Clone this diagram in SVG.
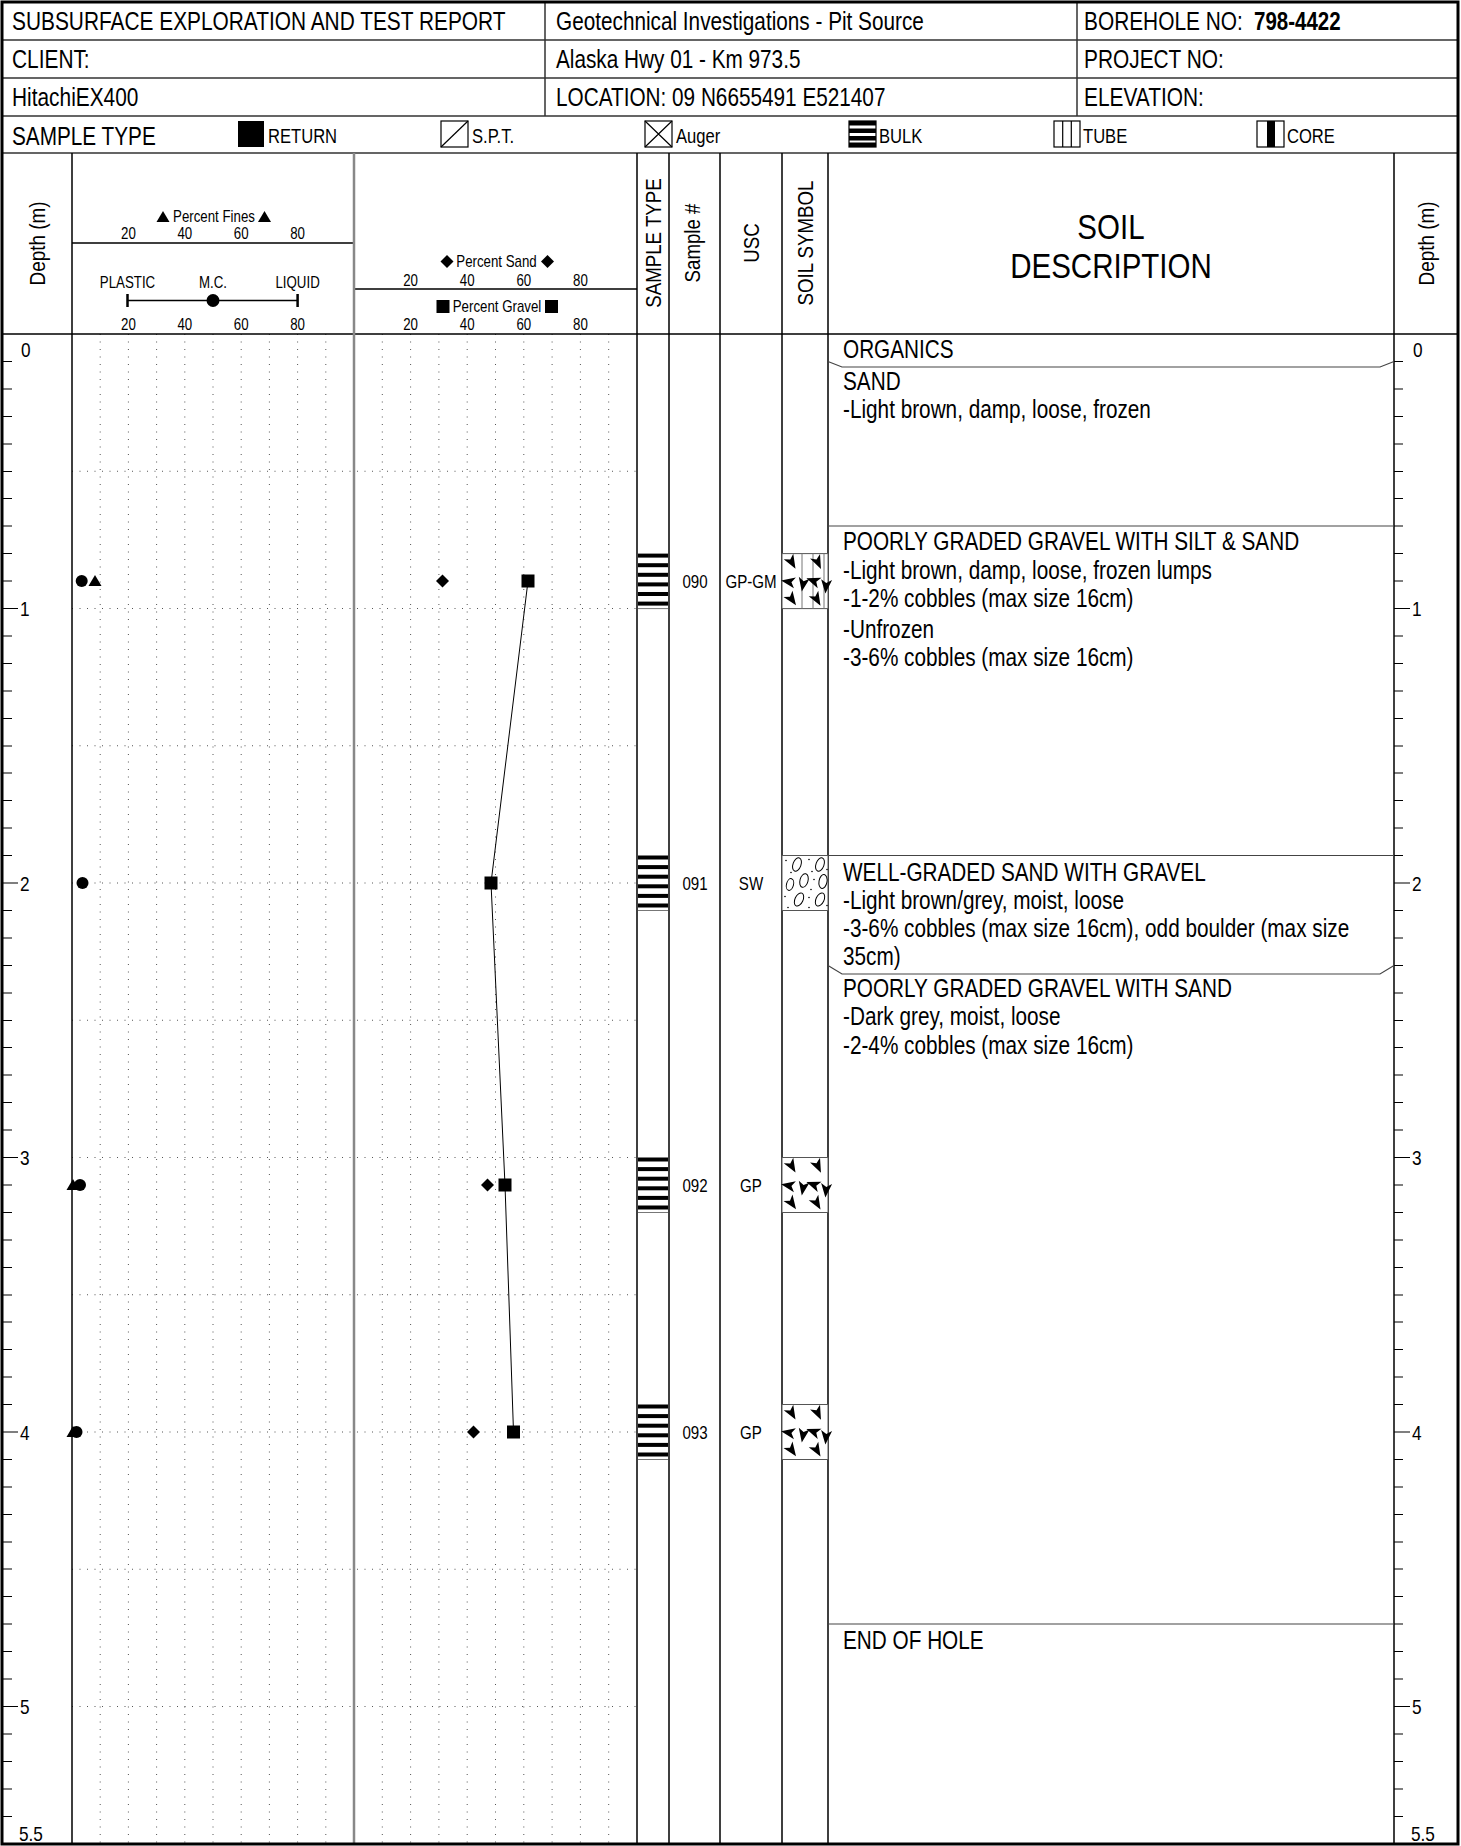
<svg xmlns="http://www.w3.org/2000/svg" xmlns:xlink="http://www.w3.org/1999/xlink" width="1461" height="1846" viewBox="0 0 1461 1846">
<style>
.t{font-family:"Liberation Sans",Arial,Helvetica,sans-serif;fill:#000}
.f25{font-size:25px}.f20{font-size:20px}.f16{font-size:16px}.f18{font-size:18px}.f19{font-size:21px}.f22{font-size:22px}.f36{font-size:36px}
.m{text-anchor:middle}
.ln{stroke:#000;stroke-width:1.5;fill:none}
.hl{stroke:#333;stroke-width:1.5;fill:none}
.grid{stroke:#555;stroke-width:1;stroke-dasharray:1 6.5;fill:none}
.tick{stroke:#000;stroke-width:1.2;fill:none}
.box{stroke:#000;stroke-width:1.2;fill:#fff}
.sym{stroke:#555;stroke-width:1;fill:#fff}
</style>
<defs>
<path id="tri" d="M-6.5,5 L6.5,5 L0,-6 Z" fill="#000"/>
<path id="dia" d="M0,-6.5 L6.5,0 L0,6.5 L-6.5,0 Z" fill="#000"/>
<rect id="sq" x="-6.5" y="-6.5" width="13" height="13" fill="#000"/>
<circle id="dot" r="6" fill="#000"/>
<path id="ah" d="M7,0 L-7,-5.5 L-3.5,0 L-7,5.5 Z" fill="#000"/>
<g id="bulk" fill="#000">
<rect x="1" y="0" width="30" height="4"/><rect x="1" y="9.6" width="30" height="4"/><rect x="1" y="19.2" width="30" height="4"/><rect x="1" y="28.8" width="30" height="4"/><rect x="1" y="38.4" width="30" height="4"/><rect x="1" y="48" width="30" height="4"/>
<line x1="1" y1="55" x2="31" y2="55" stroke="#777" stroke-width="1"/>
</g>
<g id="shards">
<use xlink:href="#ah" transform="translate(10 9) rotate(60)"/>
<use xlink:href="#ah" transform="translate(36 9) rotate(65)"/>
<use xlink:href="#ah" transform="translate(6 28) rotate(190)"/>
<use xlink:href="#ah" transform="translate(21 31) rotate(100)"/>
<use xlink:href="#ah" transform="translate(31 27) rotate(200)"/>
<use xlink:href="#ah" transform="translate(44 33) rotate(95)"/>
<use xlink:href="#ah" transform="translate(10 46) rotate(55)"/>
<use xlink:href="#ah" transform="translate(35 46) rotate(60)"/>
</g>
<g id="gp"><rect class="sym" x="0" y="0" width="46" height="55"/><use xlink:href="#shards"/></g>
<g id="gpgm"><rect class="sym" x="0" y="0" width="46" height="55"/><path d="M20,0V55M31,0V55M42,0V55" stroke="#777" stroke-width="1"/><use xlink:href="#shards"/></g>
<g id="sw"><rect class="sym" x="0" y="0" width="46" height="55"/>
<g fill="none" stroke="#000" stroke-width="1">
<ellipse cx="15" cy="9" rx="4" ry="7" transform="rotate(20 15 9)"/><ellipse cx="38" cy="9" rx="4" ry="7" transform="rotate(20 38 9)"/><ellipse cx="22" cy="25" rx="4" ry="7" transform="rotate(15 22 25)"/><ellipse cx="8" cy="29" rx="3.5" ry="6" transform="rotate(15 8 29)"/><ellipse cx="41" cy="26" rx="4" ry="7" transform="rotate(10 41 26)"/><ellipse cx="17" cy="44" rx="4" ry="7" transform="rotate(25 17 44)"/><ellipse cx="38" cy="44" rx="4" ry="7" transform="rotate(25 38 44)"/>
</g>
<g fill="#000"><circle cx="4" cy="5" r=".8"/><circle cx="27" cy="4" r=".8"/><circle cx="30" cy="16" r=".8"/><circle cx="9" cy="17" r=".8"/><circle cx="3" cy="41" r=".8"/><circle cx="29" cy="34" r=".8"/><circle cx="45" cy="14" r=".8"/><circle cx="27" cy="52" r=".8"/><circle cx="6" cy="52" r=".8"/><circle cx="45" cy="50" r=".8"/><circle cx="32" cy="24" r=".8"/><circle cx="27" cy="42" r=".8"/></g>
</g>
</defs>
<rect x="0" y="0" width="1461" height="1846" fill="#fff"/>

<g id="header">
<path class="hl" d="M2,40H1459M2,78H1459M2,116H1459M2,153H1459M545,2V116M1077,2V116"/>
<text class="t f25" transform="translate(12 30) scale(.835 1)">SUBSURFACE EXPLORATION AND TEST REPORT</text>
<text class="t f25" transform="translate(12 68) scale(.835 1)">CLIENT:</text>
<text class="t f25" transform="translate(12 106) scale(.835 1)">HitachiEX400</text>
<text class="t f25" transform="translate(556 30) scale(.83 1)">Geotechnical Investigations - Pit Source</text>
<text class="t f25" transform="translate(556 68) scale(.83 1)">Alaska Hwy 01 - Km 973.5</text>
<text class="t f25" transform="translate(556 106) scale(.83 1)">LOCATION: 09 N6655491 E521407</text>
<text class="t f25" transform="translate(1084 30) scale(.835 1)">BOREHOLE NO:</text>
<text class="t f25" font-weight="bold" transform="translate(1254 30) scale(.82 1)">798-4422</text>
<text class="t f25" transform="translate(1084 68) scale(.835 1)">PROJECT NO:</text>
<text class="t f25" transform="translate(1084 106) scale(.835 1)">ELEVATION:</text>
</g>

<g id="legend">
<text class="t f25" transform="translate(12 145) scale(.83 1)">SAMPLE TYPE</text>
<rect x="238" y="121" width="26" height="26" fill="#000"/>
<text class="t f20" transform="translate(268 143) scale(.83 1)">RETURN</text>
<rect class="box" x="441" y="121" width="27" height="26"/><line class="tick" x1="441" y1="147" x2="468" y2="121"/>
<text class="t f20" transform="translate(472 143) scale(.83 1)">S.P.T.</text>
<rect class="box" x="645" y="121" width="27" height="26"/><path class="tick" d="M645,121L672,147M672,121L645,147"/>
<text class="t f20" transform="translate(676 143) scale(.83 1)">Auger</text>
<rect class="box" x="849" y="121" width="27" height="26"/>
<g fill="#000"><rect x="849" y="121" width="27" height="4.5"/><rect x="849" y="128.5" width="27" height="4.5"/><rect x="849" y="136" width="27" height="4.5"/><rect x="849" y="142.5" width="27" height="4.5"/></g>
<text class="t f20" transform="translate(879 143) scale(.83 1)">BULK</text>
<rect class="box" x="1054" y="121" width="26" height="26"/><path class="tick" d="M1062.7,121V147M1071.3,121V147"/>
<text class="t f20" transform="translate(1083 143) scale(.83 1)">TUBE</text>
<rect class="box" x="1257" y="121" width="27" height="26"/><rect x="1267" y="121" width="8" height="26" fill="#000"/>
<text class="t f20" transform="translate(1287 143) scale(.83 1)">CORE</text>
</g>

<g id="grid">
<path class="grid" d="M100.2,334V1844M128.4,334V1844M156.6,334V1844M184.8,334V1844M213,334V1844M241.2,334V1844M269.4,334V1844M297.6,334V1844M325.8,334V1844M382.3,334V1844M410.6,334V1844M438.9,334V1844M467.2,334V1844M495.5,334V1844M523.8,334V1844M552.1,334V1844M580.4,334V1844M608.7,334V1844"/>
<path class="grid" d="M72,471.25H637M72,608.5H637M72,745.75H637M72,883H637M72,1020.25H637M72,1157.5H637M72,1294.75H637M72,1432H637M72,1569.25H637M72,1706.5H637"/>
</g>

<g id="columns">
<path class="ln" d="M72,153V1844M637,153V1844M669,153V1844M720,153V1844M782,153V1844M828,153V1844M1394,153V1844M72,243H354M354,289H637M2,334H1459"/>
<path d="M354,153V1844" stroke="#888" stroke-width="2.5" fill="none"/>
</g>

<g id="column-headers">
<text class="t f22 m" transform="translate(45 243.5) rotate(-90) scale(.86 1)">Depth (m)</text>
<text class="t f22 m" transform="translate(1434 243.5) rotate(-90) scale(.86 1)">Depth (m)</text>
<use xlink:href="#tri" x="163" y="217"/><use xlink:href="#tri" x="264.5" y="217"/>
<text class="t f16 m" transform="translate(214 222) scale(.83 1)">Percent Fines</text>
<text class="t f16 m" transform="translate(128.4 239) scale(.83 1)">20</text>
<text class="t f16 m" transform="translate(184.8 239) scale(.83 1)">40</text>
<text class="t f16 m" transform="translate(241.2 239) scale(.83 1)">60</text>
<text class="t f16 m" transform="translate(297.6 239) scale(.83 1)">80</text>
<text class="t f16 m" transform="translate(127.5 288) scale(.83 1)">PLASTIC</text>
<text class="t f16 m" transform="translate(213 288) scale(.83 1)">M.C.</text>
<text class="t f16 m" transform="translate(297.6 288) scale(.83 1)">LIQUID</text>
<path d="M127.5,300.5H297.6" stroke="#000" stroke-width="1.5"/>
<path d="M127.5,294V307M297.6,294V307" stroke="#000" stroke-width="2.5"/>
<circle cx="213" cy="300.5" r="6.5" fill="#000"/>
<text class="t f16 m" transform="translate(128.4 330) scale(.83 1)">20</text>
<text class="t f16 m" transform="translate(184.8 330) scale(.83 1)">40</text>
<text class="t f16 m" transform="translate(241.2 330) scale(.83 1)">60</text>
<text class="t f16 m" transform="translate(297.6 330) scale(.83 1)">80</text>
<use xlink:href="#dia" x="447" y="261.5"/><use xlink:href="#dia" x="547.5" y="261.5"/>
<text class="t f16 m" transform="translate(496.5 267) scale(.83 1)">Percent Sand</text>
<text class="t f16 m" transform="translate(410.6 286) scale(.83 1)">20</text>
<text class="t f16 m" transform="translate(467.2 286) scale(.83 1)">40</text>
<text class="t f16 m" transform="translate(523.8 286) scale(.83 1)">60</text>
<text class="t f16 m" transform="translate(580.4 286) scale(.83 1)">80</text>
<use xlink:href="#sq" x="443" y="306.5"/><use xlink:href="#sq" x="551.5" y="306.5"/>
<text class="t f16 m" transform="translate(497 312) scale(.83 1)">Percent Gravel</text>
<text class="t f16 m" transform="translate(410.6 330) scale(.83 1)">20</text>
<text class="t f16 m" transform="translate(467.2 330) scale(.83 1)">40</text>
<text class="t f16 m" transform="translate(523.8 330) scale(.83 1)">60</text>
<text class="t f16 m" transform="translate(580.4 330) scale(.83 1)">80</text>
<text class="t f22 m" transform="translate(661 243) rotate(-90) scale(.85 1)">SAMPLE TYPE</text>
<text class="t f22 m" transform="translate(700 243) rotate(-90) scale(.85 1)">Sample #</text>
<text class="t f22 m" transform="translate(759 243) rotate(-90) scale(.85 1)">USC</text>
<text class="t f22 m" transform="translate(813 243) rotate(-90) scale(.85 1)">SOIL SYMBOL</text>
<text class="t f36 m" transform="translate(1111 239) scale(.82 1)">SOIL</text>
<text class="t f36 m" transform="translate(1111 278) scale(.82 1)">DESCRIPTION</text>
</g>

<g id="depth-scales">
<path class="tick" d="M3,361.5h9M3,389h9M3,416.5h9M3,444h9M3,471.5h9M3,498.5h9M3,526h9M3,553.5h9M3,581h9M3,636h9M3,663.5h9M3,691h9M3,718.5h9M3,746h9M3,773h9M3,800.5h9M3,828h9M3,855.5h9M3,910.5h9M3,938h9M3,965.5h9M3,993h9M3,1020.5h9M3,1047.5h9M3,1075h9M3,1102.5h9M3,1130h9M3,1185h9M3,1212.5h9M3,1240h9M3,1267.5h9M3,1295h9M3,1322h9M3,1349.5h9M3,1377h9M3,1404.5h9M3,1459.5h9M3,1487h9M3,1514.5h9M3,1542h9M3,1569h9M3,1596.5h9M3,1624h9M3,1651.5h9M3,1679h9M3,1734h9M3,1761.5h9M3,1789h9M3,1816.5h9"/>
<path class="tick" d="M3,608.5h15M3,883h15M3,1157.5h15M3,1432h15M3,1706.5h15"/>
<path class="tick" d="M1394,361.5h9M1394,389h9M1394,416.5h9M1394,444h9M1394,471.5h9M1394,498.5h9M1394,526h9M1394,553.5h9M1394,581h9M1394,636h9M1394,663.5h9M1394,691h9M1394,718.5h9M1394,746h9M1394,773h9M1394,800.5h9M1394,828h9M1394,855.5h9M1394,910.5h9M1394,938h9M1394,965.5h9M1394,993h9M1394,1020.5h9M1394,1047.5h9M1394,1075h9M1394,1102.5h9M1394,1130h9M1394,1185h9M1394,1212.5h9M1394,1240h9M1394,1267.5h9M1394,1295h9M1394,1322h9M1394,1349.5h9M1394,1377h9M1394,1404.5h9M1394,1459.5h9M1394,1487h9M1394,1514.5h9M1394,1542h9M1394,1569h9M1394,1596.5h9M1394,1624h9M1394,1651.5h9M1394,1679h9M1394,1734h9M1394,1761.5h9M1394,1789h9M1394,1816.5h9"/>
<path class="tick" d="M1394,608.5h16M1394,883h16M1394,1157.5h16M1394,1432h16M1394,1706.5h16"/>
<text class="t f19" transform="translate(21 357) scale(.82 1)">0</text>
<text class="t f19" transform="translate(20 616) scale(.82 1)">1</text>
<text class="t f19" transform="translate(20 890.5) scale(.82 1)">2</text>
<text class="t f19" transform="translate(20 1165) scale(.82 1)">3</text>
<text class="t f19" transform="translate(20 1439.5) scale(.82 1)">4</text>
<text class="t f19" transform="translate(20 1714) scale(.82 1)">5</text>
<text class="t f19" transform="translate(19 1841) scale(.82 1)">5.5</text>
<text class="t f19" transform="translate(1413 357) scale(.82 1)">0</text>
<text class="t f19" transform="translate(1412 616) scale(.82 1)">1</text>
<text class="t f19" transform="translate(1412 890.5) scale(.82 1)">2</text>
<text class="t f19" transform="translate(1412 1165) scale(.82 1)">3</text>
<text class="t f19" transform="translate(1412 1439.5) scale(.82 1)">4</text>
<text class="t f19" transform="translate(1412 1714) scale(.82 1)">5</text>
<text class="t f19" transform="translate(1411 1841) scale(.82 1)">5.5</text>
</g>

<g id="samples">
<use xlink:href="#bulk" x="637" y="553.6"/>
<use xlink:href="#bulk" x="637" y="855.5"/>
<use xlink:href="#bulk" x="637" y="1157.5"/>
<use xlink:href="#bulk" x="637" y="1404.5"/>
<text class="t f18 m" transform="translate(695 588) scale(.84 1)">090</text>
<text class="t f18 m" transform="translate(751 588) scale(.84 1)">GP-GM</text>
<text class="t f18 m" transform="translate(695 890) scale(.84 1)">091</text>
<text class="t f18 m" transform="translate(751 890) scale(.84 1)">SW</text>
<text class="t f18 m" transform="translate(695 1192) scale(.84 1)">092</text>
<text class="t f18 m" transform="translate(751 1192) scale(.84 1)">GP</text>
<text class="t f18 m" transform="translate(695 1439) scale(.84 1)">093</text>
<text class="t f18 m" transform="translate(751 1439) scale(.84 1)">GP</text>
<use xlink:href="#gpgm" x="782" y="553.6"/>
<use xlink:href="#sw" x="782" y="855.5"/>
<use xlink:href="#gp" x="782" y="1157.5"/>
<use xlink:href="#gp" x="782" y="1404.5"/>
</g>

<g id="data-points">
<polyline points="528,581 491,883 505,1185 513.5,1432" fill="none" stroke="#000" stroke-width="1"/>
<use xlink:href="#dot" x="81.7" y="581"/><use xlink:href="#tri" x="95" y="581"/>
<use xlink:href="#dot" x="82.5" y="883"/>
<use xlink:href="#tri" x="73" y="1185"/><use xlink:href="#dot" x="80" y="1185"/>
<use xlink:href="#tri" x="73" y="1432"/><use xlink:href="#dot" x="76.5" y="1432"/>
<use xlink:href="#dia" x="442.5" y="581"/><use xlink:href="#sq" x="528" y="581"/>
<use xlink:href="#sq" x="491" y="883"/>
<use xlink:href="#dia" x="487.5" y="1185"/><use xlink:href="#sq" x="505" y="1185"/>
<use xlink:href="#dia" x="473.5" y="1432"/><use xlink:href="#sq" x="513.5" y="1432"/>
</g>

<g id="layers">
<path d="M828,361.5L842,367H1380L1394,361.5" fill="none" stroke="#444" stroke-width="1.2"/>
<path d="M828,526H1394M828,855.5H1394M828,1624H1394" fill="none" stroke="#444" stroke-width="1.2"/>
<path d="M828,965.5L842,974H1380L1394,965.5" fill="none" stroke="#444" stroke-width="1.2"/>
<text class="t f25" transform="translate(843 358) scale(.83 1)">ORGANICS</text>
<text class="t f25" transform="translate(843 390) scale(.83 1)">SAND</text>
<text class="t f25" transform="translate(843 418) scale(.83 1)">-Light brown, damp, loose, frozen</text>
<text class="t f25" transform="translate(843 550) scale(.83 1)">POORLY GRADED GRAVEL WITH SILT &amp; SAND</text>
<text class="t f25" transform="translate(843 579) scale(.83 1)">-Light brown, damp, loose, frozen lumps</text>
<text class="t f25" transform="translate(843 607) scale(.83 1)">-1-2% cobbles (max size 16cm)</text>
<text class="t f25" transform="translate(843 638) scale(.83 1)">-Unfrozen</text>
<text class="t f25" transform="translate(843 666) scale(.83 1)">-3-6% cobbles (max size 16cm)</text>
<text class="t f25" transform="translate(843 881) scale(.83 1)">WELL-GRADED SAND WITH GRAVEL</text>
<text class="t f25" transform="translate(843 909) scale(.83 1)">-Light brown/grey, moist, loose</text>
<text class="t f25" transform="translate(843 937) scale(.83 1)">-3-6% cobbles (max size 16cm), odd boulder (max size</text>
<text class="t f25" transform="translate(843 965) scale(.83 1)">35cm)</text>
<text class="t f25" transform="translate(843 997) scale(.83 1)">POORLY GRADED GRAVEL WITH SAND</text>
<text class="t f25" transform="translate(843 1025) scale(.83 1)">-Dark grey, moist, loose</text>
<text class="t f25" transform="translate(843 1054) scale(.83 1)">-2-4% cobbles (max size 16cm)</text>
<text class="t f25" transform="translate(843 1649) scale(.83 1)">END OF HOLE</text>
</g>

<rect x="2" y="2" width="1456" height="1842" fill="none" stroke="#000" stroke-width="3"/>
</svg>
